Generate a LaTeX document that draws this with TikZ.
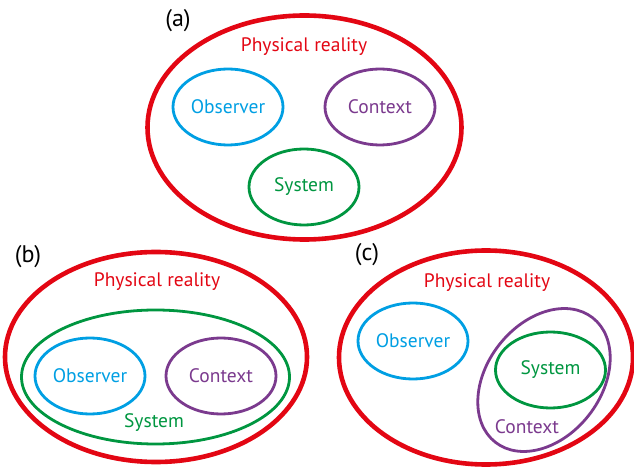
\documentclass[tikz,border=0pt]{standalone}
\usepackage{fontspec}
\setmainfont{PT Sans}
\usetikzlibrary{shapes.geometric}
\definecolor{realred}{HTML}{E30613}
\definecolor{obsblue}{HTML}{009FE3}
\definecolor{ctxpurple}{HTML}{7B3A8E}
\definecolor{sysgreen}{HTML}{009640}
\begin{document}
\begin{tikzpicture}[x=1pt,y=1pt,
 oval/.style={draw,ellipse,inner sep=0pt,line width=2.8pt,font=\fontsize{19.5}{19.5}\selectfont},
 outer/.style={oval,draw=realred,line width=4.6pt},
 obs/.style={oval,draw=obsblue,text=obsblue,minimum width=110,minimum height=76},
 ctx/.style={oval,draw=ctxpurple,text=ctxpurple,minimum width=110,minimum height=76},
 sys/.style={oval,draw=sysgreen,text=sysgreen,minimum width=110,minimum height=76},
 real/.style={text=realred,font=\fontsize{19.5}{19.5}\selectfont},
 word/.style={font=\fontsize{19.5}{19.5}\selectfont},
 tag/.style={font=\fontsize{24}{24}\selectfont}]
\useasboundingbox (0,0) rectangle (634,466);
% (a)
\node (ra)[outer,minimum width=314,minimum height=224] at (304.5,338.5) {};
\node (ta)[tag] at (178,445) {(a)};
\node (pa)[real] at (304,419) {Physical reality};
\node (oa)[obs] at (228,359) {Observer};
\node (ca)[ctx] at (380,359) {Context};
\node (sa)[sys] at (304,279) {System};
% (b)
\node (rb)[outer,minimum width=302,minimum height=210] at (156,109) {};
\node (tb)[tag] at (28,209) {(b)};
\node (pb)[real] at (157,184) {Physical reality};
\node (sb)[sys,minimum width=268,minimum height=134] at (155.5,89) {};
\node (lb)[word,text=sysgreen] at (154,43) {System};
\node (ob)[obs] at (90,90) {Observer};
\node (cb)[ctx] at (221,90) {Context};
% (c)
\node (rc)[outer,minimum width=294,minimum height=214] at (486,108.5) {};
\node (tc)[tag] at (367,211) {(c)};
\node (pc)[real] at (487,183) {Physical reality};
\node (oc)[obs] at (413,125) {Observer};
\node (cc)[ctx,rotate=52,minimum width=158,minimum height=114] at (544,86) {};
\node (lc)[word,text=ctxpurple] at (527,39) {Context};
\node (sc)[sys] at (550.5,96) {System};
\end{tikzpicture}
\end{document}
